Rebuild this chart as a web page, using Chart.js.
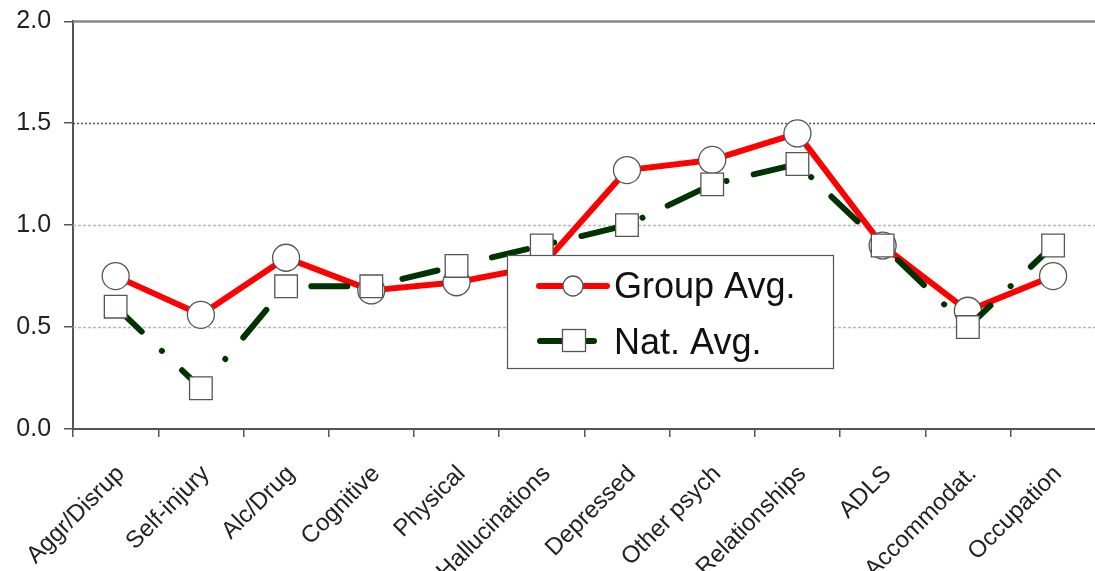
<!DOCTYPE html>
<html>
<head>
<meta charset="utf-8">
<script src="https://cdn.jsdelivr.net/npm/chart.js@4"></script>
<style>
html,body{margin:0;padding:0;background:#fff;overflow:hidden;}
#wrap{width:1095px;height:571px;position:relative;overflow:hidden;}
#c{position:absolute;left:0;top:4px;}
</style>
</head>
<body>
<div id="wrap"><canvas id="c" width="1113" height="567"></canvas></div>
<script>
const categories = ["Aggr/Disrup","Self-injury","Alc/Drug","Cognitive","Physical","Hallucinations","Depressed","Other psych","Relationships","ADLS","Accommodat.","Occupation"];
const groupAvg = [0.75,0.56,0.84,0.68,0.72,0.80,1.27,1.32,1.45,0.90,0.58,0.75];
const natAvg   = [0.60,0.20,0.70,0.70,0.80,0.90,1.00,1.20,1.30,0.90,0.50,0.90];
const yTicks = [0.0,0.5,1.0,1.5,2.0];
const seriesNames = ["Group Avg.","Nat. Avg."];

const FONT = "'Liberation Sans', Arial, sans-serif";
const OFFY = 4; // canvas offset inside page

const gridPlugin = {
  id:'gridPlugin',
  beforeDatasetsDraw(chart){
    const {ctx, chartArea:a, scales:{y}} = chart;
    ctx.save();
    yTicks.forEach(v=>{
      if(v===0) return;
      const py = Math.round(y.getPixelForValue(v))+0.5;
      ctx.beginPath();
      if(v===2.0){ ctx.setLineDash([]); ctx.strokeStyle='#8a8a8a'; ctx.lineWidth=2.5; }
      else if(v===1.5){ ctx.setLineDash([2,2]); ctx.strokeStyle='#555'; ctx.lineWidth=1.5; }
      else { ctx.setLineDash([3,2]); ctx.strokeStyle='#b8b8b8'; ctx.lineWidth=1.5; }
      ctx.moveTo(a.left, py); ctx.lineTo(a.right, py); ctx.stroke();
    });
    ctx.restore();
  }
};

const legendPlugin = {
  id:'legendPlugin',
  afterDraw(chart){
    const ctx = chart.ctx;
    ctx.save();
    ctx.translate(0,-OFFY);
    const L=507,T=255,R=833,B=368;
    ctx.fillStyle='#fff'; ctx.fillRect(L,T,R-L,B-T);
    ctx.strokeStyle='#555'; ctx.lineWidth=1.2; ctx.setLineDash([]);
    ctx.strokeRect(L+0.5,T+0.5,R-L,B-T);
    ctx.lineCap='round';
    ctx.strokeStyle='#ff0000'; ctx.lineWidth=6;
    ctx.beginPath(); ctx.moveTo(539,286); ctx.lineTo(607,286); ctx.stroke();
    ctx.beginPath(); ctx.arc(573,286,10,0,Math.PI*2); ctx.fillStyle='#fff'; ctx.fill();
    ctx.lineWidth=1.3; ctx.strokeStyle='#555'; ctx.stroke();
    ctx.strokeStyle='#003300'; ctx.lineWidth=6;
    ctx.beginPath(); ctx.moveTo(540,341); ctx.lineTo(594,341); ctx.stroke();
    ctx.fillStyle='#fff'; ctx.fillRect(562,329,24,23);
    ctx.lineWidth=1.3; ctx.strokeStyle='#555'; ctx.strokeRect(562.5,329.5,23,22);
    ctx.fillStyle='#111'; ctx.font="36px "+FONT; ctx.textBaseline='alphabetic'; ctx.textAlign='left';
    ctx.fillText(seriesNames[0],614,298);
    ctx.fillText(seriesNames[1],614,354);
    ctx.restore();
  }
};

new Chart(document.getElementById('c'),{
  type:'line',
  data:{
    labels:categories,
    datasets:[
      {label:seriesNames[0],data:groupAvg,order:2,borderColor:'#ff0000',borderWidth:6,
       pointStyle:'circle',pointRadius:13.5,pointBackgroundColor:'#fff',pointBorderColor:'#555',pointBorderWidth:1.3,
       tension:0,borderJoinStyle:'round'},
      {label:seriesNames[1],data:natAvg,order:1,borderColor:'#003300',borderWidth:6,
       borderDash:[36,28,0.01,28],borderCapStyle:'round',
       pointStyle:'rect',pointRadius:16,pointBackgroundColor:'#fff',pointBorderColor:'#555',pointBorderWidth:1.3,
       tension:0}
    ]
  },
  options:{
    responsive:false,animation:false,
    layout:{padding:{top:2,right:0,left:0,bottom:0}},
    plugins:{legend:{display:false},tooltip:{enabled:false}},
    scales:{
      x:{offset:true,
         grid:{offset:true,drawOnChartArea:false,tickLength:8,color:'#555',lineWidth:1.5},
         border:{color:'#555',width:2},
         ticks:{autoSkip:false,maxRotation:45,minRotation:45,padding:23,labelOffset:5,color:'#222',font:{family:FONT,size:24}},
         afterFit(s){s.height=142;}
      },
      y:{min:0,max:2,
         grid:{drawOnChartArea:false,tickLength:9,color:'#555',lineWidth:1.5},
         border:{color:'#555',width:2},
         ticks:{stepSize:0.5,padding:13,color:'#222',font:{family:FONT,size:25},
                callback:(v)=>Number(v).toFixed(1)},
         afterFit(s){s.width=73; s.paddingTop=0;}
      }
    }
  },
  plugins:[gridPlugin,legendPlugin]
});
</script>
</body>
</html>
